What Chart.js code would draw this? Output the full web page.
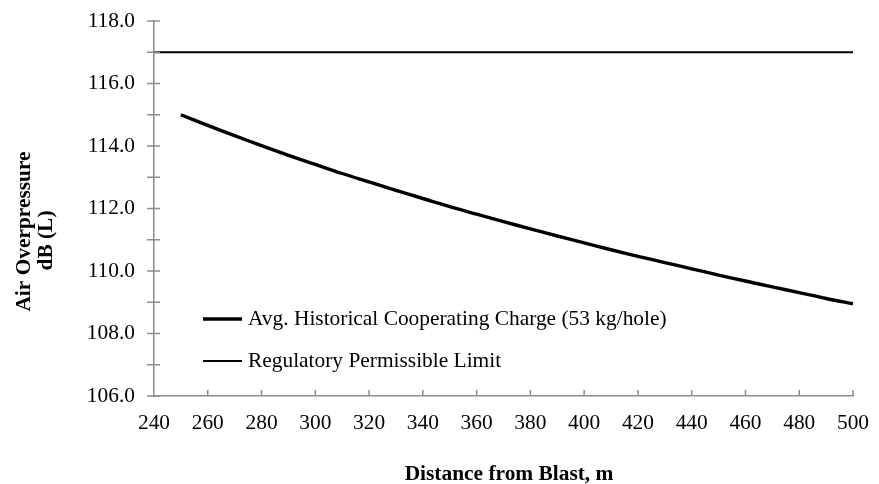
<!DOCTYPE html>
<html><head><meta charset="utf-8">
<script src="https://cdn.jsdelivr.net/npm/chart.js@4"></script>
<style>html,body{margin:0;padding:0;background:#fff}#wrap{width:879px;height:484px}</style>
</head><body><div id="wrap"><canvas id="c" width="879" height="484"></canvas></div>
<script>
const distances = [250,260,270,280,290,300,310,320,330,340,350,360,370,380,390,400,410,420,430,440,450,460,470,480,490,500];
const avgCharge = [115.00,114.66,114.33,114.01,113.70,113.41,113.12,112.85,112.58,112.32,112.06,111.82,111.58,111.35,111.12,110.90,110.68,110.47,110.27,110.07,109.87,109.68,109.49,109.31,109.12,108.95];
const limitDistances = [240, 500];
const limitValues = [117.0, 117.0];
const seriesLabels = ["Avg. Historical Cooperating Charge (53 kg/hole)", "Regulatory Permissible Limit"];
const xTitle = "Distance from Blast, m";
const yTitle = ["Air Overpressure", "dB (L)"];

const FONT = "'Liberation Serif', 'Times New Roman', serif";
const FS = 21.4;
const AXIS = '#8c8c8c';

const tickPlugin = {
  id: 'customTicks',
  afterDraw(chart) {
    const ctx = chart.ctx, xs = chart.scales.x, ys = chart.scales.y;
    ctx.save();
    ctx.strokeStyle = AXIS; ctx.lineWidth = 1.5;
    ys.ticks.forEach(t => {
      const y = ys.getPixelForValue(t.value);
      ctx.beginPath(); ctx.moveTo(xs.left - 7, y); ctx.lineTo(xs.left + 6, y); ctx.stroke();
    });
    xs.ticks.forEach(t => {
      if (t.value === xs.min) return;
      const x = xs.getPixelForValue(t.value);
      ctx.beginPath(); ctx.moveTo(x, ys.bottom); ctx.lineTo(x, ys.bottom - 6); ctx.stroke();
    });
    const area = chart.chartArea;
    // legend inside plot area
    const rows = [area.bottom - 77, area.bottom - 35];
    ctx.font = FS + "px " + FONT;
    ctx.fillStyle = '#000';
    ctx.textBaseline = 'middle';
    ctx.textAlign = 'left';
    chart.data.datasets.forEach((ds, i) => {
      const y = rows[i];
      ctx.strokeStyle = ds.borderColor; ctx.lineWidth = ds.borderWidth;
      ctx.beginPath(); ctx.moveTo(area.left + 49, y); ctx.lineTo(area.left + 88, y); ctx.stroke();
      ctx.fillText(ds.label, area.left + 94, y);
    });
    // axis titles
    ctx.font = "bold " + FS + "px " + FONT;
    ctx.textAlign = 'center';
    ctx.fillText(xTitle, (area.left + area.right) / 2 + 5.5, area.bottom + 78);
    const ymid = (area.top + area.bottom) / 2;
    const yOffsets = [23, 32];
    yTitle.forEach((line, i) => {
      ctx.save();
      ctx.translate(24 + i * 22, ymid + yOffsets[i]);
      ctx.rotate(-Math.PI / 2);
      ctx.fillText(line, 0, 0);
      ctx.restore();
    });
    ctx.restore();
  }
};

new Chart(document.getElementById('c'), {
  type: 'line',
  data: {
    datasets: [
      { label: seriesLabels[0], data: distances.map((d, i) => ({x: d, y: avgCharge[i]})),
        borderColor: '#000', borderWidth: 3.4, pointRadius: 0, tension: 0.3, fill: false },
      { label: seriesLabels[1], data: limitDistances.map((d, i) => ({x: d, y: limitValues[i]})),
        borderColor: '#000', borderWidth: 1.8, pointRadius: 0, fill: false }
    ]
  },
  options: {
    responsive: false, animation: false, devicePixelRatio: 1,
    layout: { padding: { top: 21, right: 26, left: 0, bottom: 0 } },
    plugins: { legend: { display: false }, tooltip: { enabled: false } },
    scales: {
      x: {
        type: 'linear', min: 240, max: 500,
        afterFit: s => { s.height = 88; s.paddingLeft = 0; s.paddingRight = 0; },
        grid: { drawOnChartArea: false, drawTicks: false },
        border: { display: true, color: AXIS, width: 1.5 },
        ticks: { stepSize: 20, autoSkip: false, maxRotation: 0, padding: 15, color: '#000', font: { family: FONT, size: FS } },
        title: { display: false }
      },
      y: {
        min: 106, max: 118,
        afterFit: s => { s.width = 154; s.paddingTop = 0; s.paddingBottom = 0; },
        grid: { drawOnChartArea: false, drawTicks: false },
        border: { display: true, color: AXIS, width: 1.5 },
        ticks: { stepSize: 1, autoSkip: false, padding: 19, color: '#000', font: { family: FONT, size: FS } ,
          callback: v => (v % 2 === 0 ? v.toFixed(1) : '') },
        title: { display: false }
      }
    }
  },
  plugins: [tickPlugin]
});
</script></body></html>
